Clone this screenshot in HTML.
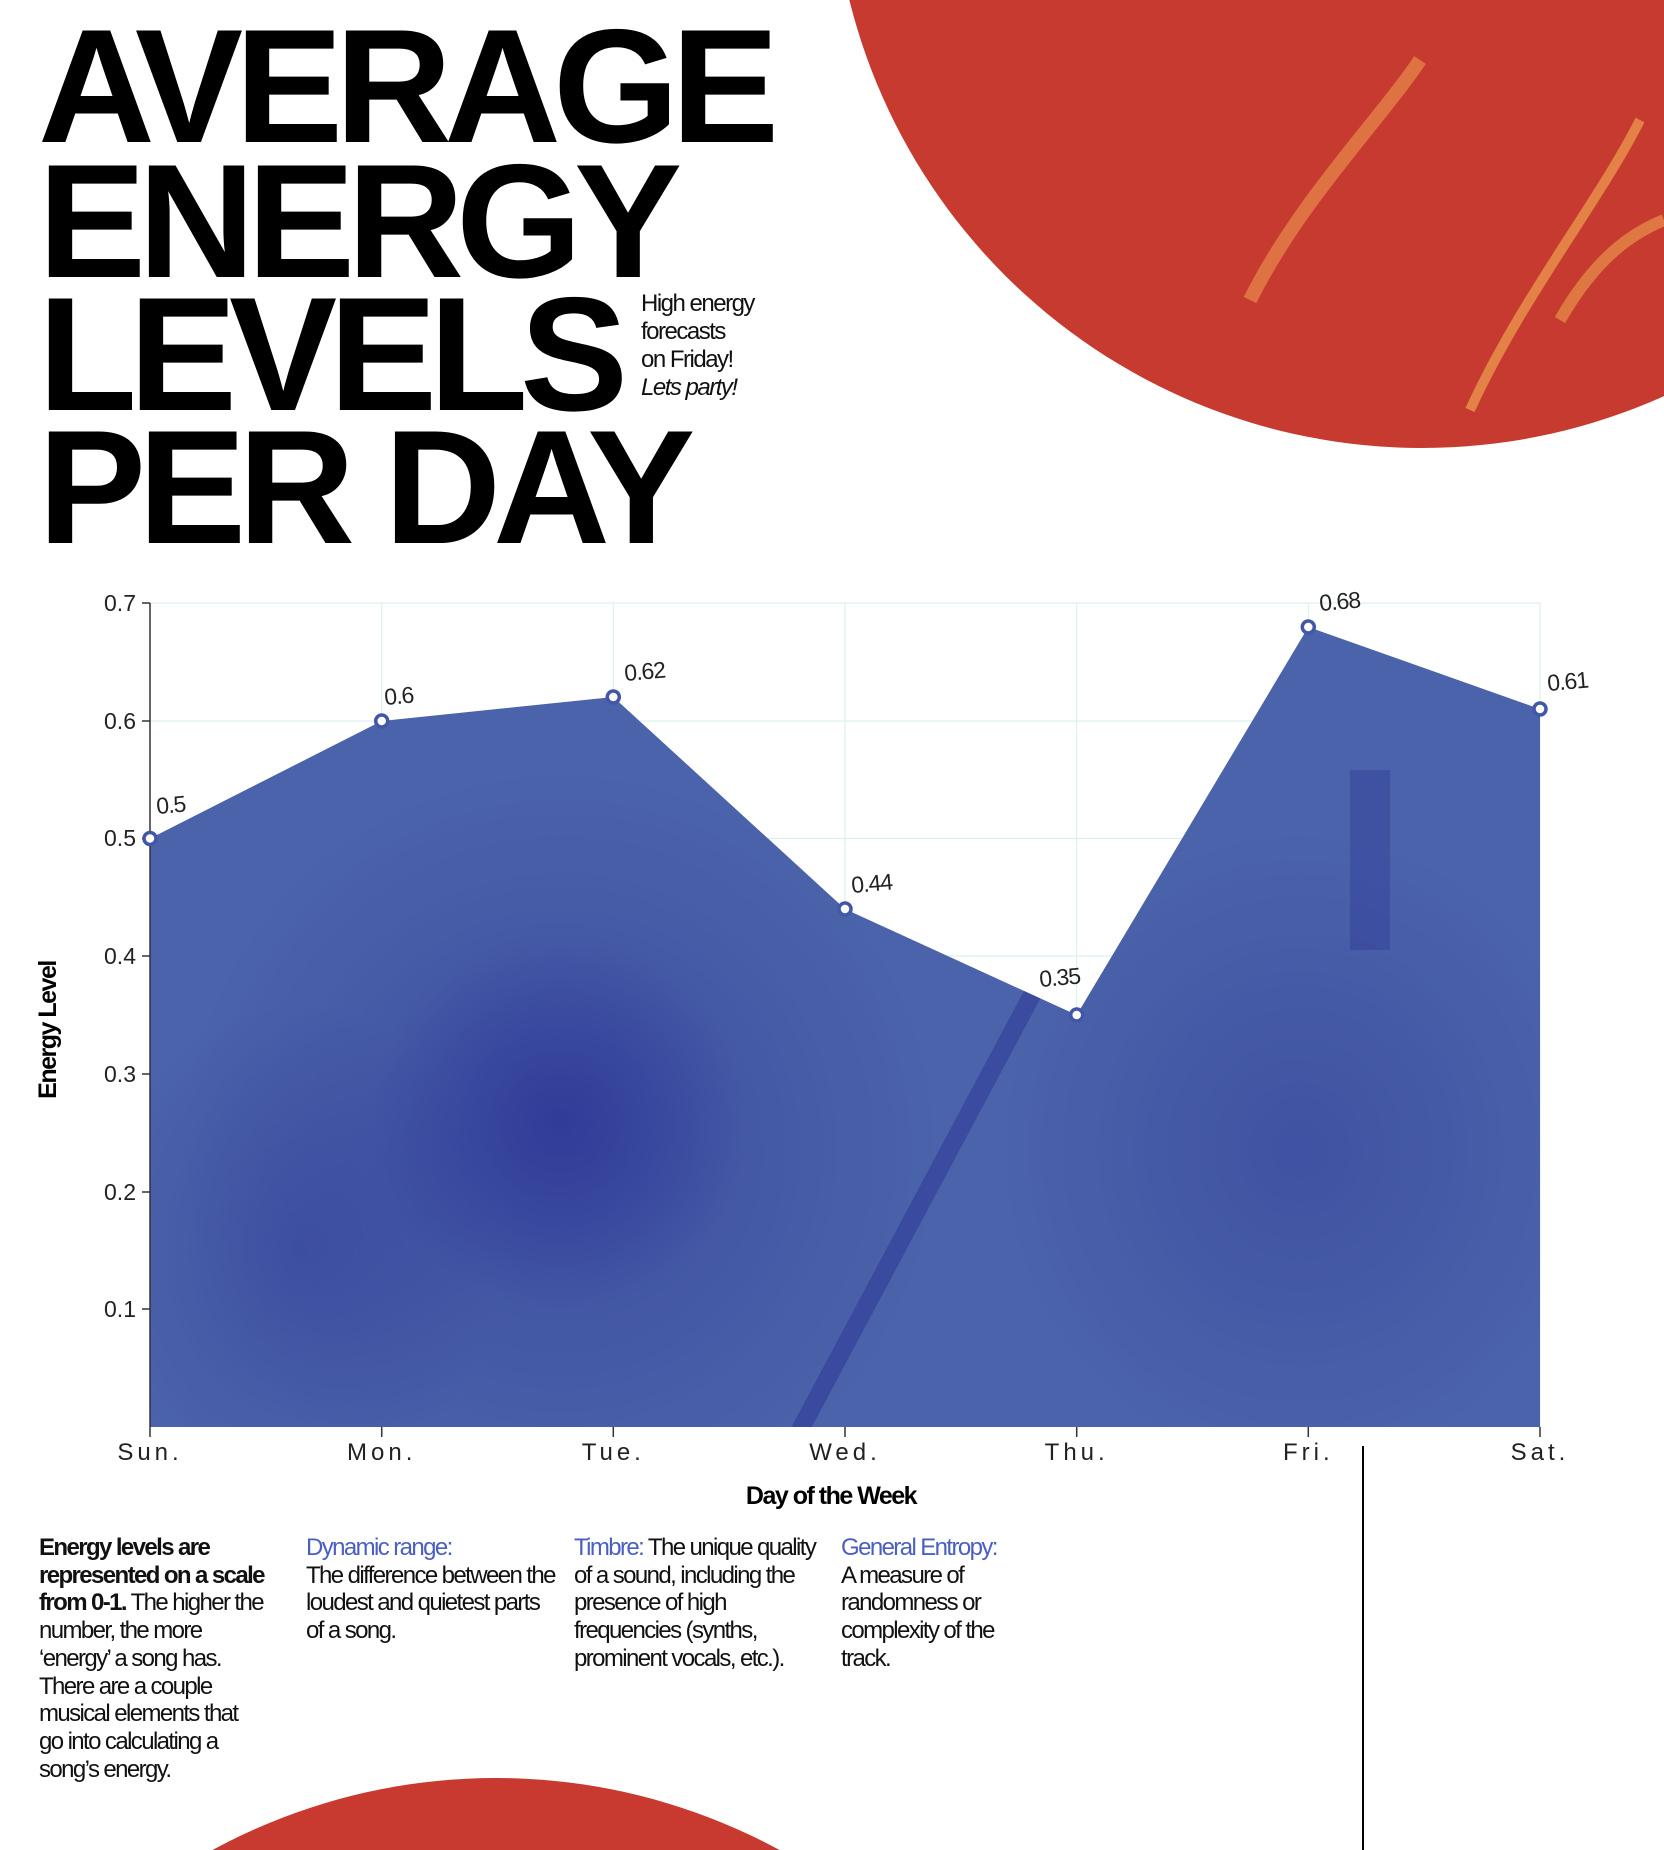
<!DOCTYPE html>
<html><head><meta charset="utf-8"><style>
html,body{margin:0;padding:0;background:#fff;width:1664px;height:1850px;overflow:hidden;}
body{position:relative;font-family:"Liberation Sans",sans-serif;}
.t{position:absolute;left:38px;font-weight:bold;font-size:162px;letter-spacing:-8px;line-height:1;color:#000;white-space:nowrap;}
.sub{position:absolute;left:641px;top:290px;font-size:24px;line-height:28px;letter-spacing:-1.5px;color:#111;}
.col{position:absolute;top:1534px;font-size:24px;line-height:27.7px;letter-spacing:-1.6px;color:#111;width:232px;}
.b{color:#4a5fc1;}
</style></head><body>
<svg width="1664" height="1850" style="position:absolute;left:0;top:0;display:block">
<defs>
<clipPath id="ar"><polygon points="150,838.5 381.7,721 613.3,697 845,909 1076.7,1015 1308.3,627 1540,709 1540,1427 150,1427"/></clipPath>
<radialGradient id="dk" cx="0.5" cy="0.5" r="0.5"><stop offset="0" stop-color="#2c3596" stop-opacity="0.75"/><stop offset="1" stop-color="#2c3596" stop-opacity="0"/></radialGradient>
</defs>
<circle cx="1422" cy="-142" r="590" fill="#c63a2f"/>
<path d="M1250,300 C1300,200 1380,120 1420,60" stroke="#e88a4a" stroke-width="14" fill="none" opacity="0.7"/>
<path d="M1470,410 C1520,300 1600,200 1640,120" stroke="#f0a050" stroke-width="10" fill="none" opacity="0.7"/>
<path d="M1560,320 C1600,250 1640,230 1664,220" stroke="#f0a050" stroke-width="12" fill="none" opacity="0.6"/>
<circle cx="496" cy="2372" r="594" fill="#c8392f"/>
<g stroke="#d6eeee" stroke-width="1">
<line x1="150" y1="603" x2="1540" y2="603"/><line x1="150" y1="721" x2="1540" y2="721"/><line x1="150" y1="838.5" x2="1540" y2="838.5"/><line x1="150" y1="956" x2="1540" y2="956"/>
<line x1="381.7" y1="603" x2="381.7" y2="1427"/><line x1="613.3" y1="603" x2="613.3" y2="1427"/><line x1="845" y1="603" x2="845" y2="1427"/><line x1="1076.7" y1="603" x2="1076.7" y2="1427"/><line x1="1308.3" y1="603" x2="1308.3" y2="1427"/><line x1="1540" y1="603" x2="1540" y2="1427"/>
</g>
<polygon points="150,838.5 381.7,721 613.3,697 845,909 1076.7,1015 1308.3,627 1540,709 1540,1427 150,1427" fill="#4b63aa"/>
<g clip-path="url(#ar)">
<ellipse cx="560" cy="1150" rx="380" ry="380" fill="url(#dk)" opacity="0.6"/>
<ellipse cx="560" cy="1120" rx="190" ry="190" fill="url(#dk)"/>
<ellipse cx="300" cy="1250" rx="200" ry="250" fill="url(#dk)" opacity="0.5"/>
<ellipse cx="1300" cy="1150" rx="300" ry="320" fill="url(#dk)" opacity="0.5"/>
<path d="M800,1430 L1040,980" stroke="#2c3596" stroke-width="18" opacity="0.5"/>
<rect x="1350" y="770" width="40" height="180" fill="#2c3596" opacity="0.35"/>
</g>
<g stroke="#333" stroke-width="1.5">
<line x1="150" y1="603" x2="150" y2="1427"/>
<line x1="150" y1="1427" x2="150" y2="1437"/><line x1="381.7" y1="1427" x2="381.7" y2="1437"/><line x1="613.3" y1="1427" x2="613.3" y2="1437"/><line x1="845" y1="1427" x2="845" y2="1437"/><line x1="1076.7" y1="1427" x2="1076.7" y2="1437"/><line x1="1308.3" y1="1427" x2="1308.3" y2="1437"/><line x1="1540" y1="1427" x2="1540" y2="1437"/>
<line x1="142" y1="603" x2="150" y2="603"/><line x1="142" y1="721" x2="150" y2="721"/><line x1="142" y1="838.5" x2="150" y2="838.5"/><line x1="142" y1="956" x2="150" y2="956"/><line x1="142" y1="1074" x2="150" y2="1074"/><line x1="142" y1="1192" x2="150" y2="1192"/><line x1="142" y1="1309" x2="150" y2="1309"/>
</g>
<g font-family="Liberation Sans" font-size="23" fill="#222" text-anchor="end">
<text x="136" y="611">0.7</text><text x="136" y="729">0.6</text><text x="136" y="846">0.5</text><text x="136" y="964">0.4</text><text x="136" y="1082">0.3</text><text x="136" y="1200">0.2</text><text x="136" y="1317">0.1</text>
</g>
<g font-family="Liberation Sans" font-size="24" fill="#222" text-anchor="middle" letter-spacing="4">
<text x="150" y="1460">Sun.</text><text x="381.7" y="1460">Mon.</text><text x="613.3" y="1460">Tue.</text><text x="845" y="1460">Wed.</text><text x="1076.7" y="1460">Thu.</text><text x="1308.3" y="1460">Fri.</text><text x="1540" y="1460">Sat.</text>
</g>
<text x="831" y="1504" font-family="Liberation Sans" font-weight="bold" font-size="25" letter-spacing="-1.5" text-anchor="middle" fill="#000">Day of the Week</text>
<text transform="translate(56,1030) rotate(-90)" font-family="Liberation Sans" font-weight="bold" font-size="25" letter-spacing="-1.5" text-anchor="middle" fill="#000">Energy Level</text>
<g fill="#fff" stroke="#4257a8" stroke-width="3.5">
<circle cx="150" cy="838.5" r="6"/><circle cx="381.7" cy="721" r="6"/><circle cx="613.3" cy="697" r="6"/><circle cx="845" cy="909" r="6"/><circle cx="1076.7" cy="1015" r="6"/><circle cx="1308.3" cy="627" r="6"/><circle cx="1540" cy="709" r="6"/>
</g>
<g font-family="Liberation Sans" font-size="23" fill="#222" letter-spacing="-1">
<text x="157" y="814" transform="rotate(-5 157 814)">0.5</text>
<text x="385" y="705" transform="rotate(-5 385 705)">0.6</text>
<text x="625" y="681" transform="rotate(-5 625 681)">0.62</text>
<text x="852" y="893" transform="rotate(-5 852 893)">0.44</text>
<text x="1040" y="987" transform="rotate(-5 1040 987)">0.35</text>
<text x="1320" y="611" transform="rotate(-5 1320 611)">0.68</text>
<text x="1548" y="691" transform="rotate(-5 1548 691)">0.61</text>
</g>
<line x1="1363" y1="1446" x2="1363" y2="1850" stroke="#000" stroke-width="2"/>
</svg>
<div class="t" style="top:6px">AVERAGE</div>
<div class="t" style="top:141px">ENERGY</div>
<div class="t" style="top:274px">LEVELS</div>
<div class="t" style="top:407px">PER DAY</div>
<div class="sub">High energy<br>forecasts<br>on Friday!<br><i>Lets party!</i></div>
<div class="col" style="left:39px;width:225px"><b>Energy levels are represented on a scale from 0-1.</b> The higher the number, the more ‘energy’ a song has. There are a couple musical elements that go into calculating a song’s energy.</div>
<div class="col" style="left:306px;width:250px"><span class="b">Dynamic range:</span><br>The difference between the loudest and quietest parts of a song.</div>
<div class="col" style="left:574px;width:245px"><span class="b">Timbre:</span> The unique quality of a sound, including the presence of high frequencies (synths, prominent vocals, etc.).</div>
<div class="col" style="left:841px;width:180px"><span class="b">General Entropy:</span><br>A measure of randomness or complexity of the track.</div>
</body></html>
